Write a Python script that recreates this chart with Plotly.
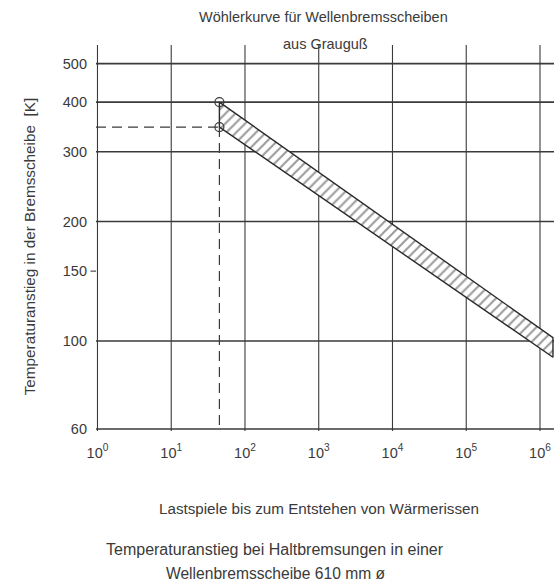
import numpy as np
import plotly.graph_objects as go

# ---- data ----
x_decades = [1, 10, 100, 1000, 10000, 100000, 1000000]
x_ticktext = ["10<sup>0</sup>", "10<sup>1</sup>", "10<sup>2</sup>", "10<sup>3</sup>",
              "10<sup>4</sup>", "10<sup>5</sup>", "10<sup>6</sup>"]
y_ticks = [60, 100, 150, 200, 300, 400, 500]
y_grid = [60, 100, 200, 300, 400, 500]

band_x = [45, 1.5e6]          # load cycles
band_upper = [400, 102]       # K
band_lower = [346, 91]        # K
marker_x = [45, 45]
marker_y = [400, 346]

W, H = 557, 586
FONT = "Liberation Sans, Arial, sans-serif"
INK = "#3a3a3a"
FS = 14.5

x_range = [-0.02, 6.19]
y_range = [np.log10(60) - 0.005, 2.746]
L, R, T, B = 95.7, 3, 45, 155
PW, PH = W - L - R, H - T - B


def px2x(px):
    return (px - L) / PW


def py2y(py):
    return 1 - (py - T) / PH


fig = go.Figure()

# horizontal grid lines
hx, hy = [], []
for v in y_grid:
    hx += [10 ** x_range[0], 10 ** x_range[1], None]
    hy += [v, v, None]
fig.add_trace(go.Scatter(x=hx, y=hy, mode="lines",
                         line=dict(color=INK, width=1.6), hoverinfo="skip", showlegend=False))
# vertical grid lines
vx, vy = [], []
for v in x_decades:
    vx += [v, v, None]
    vy += [10 ** y_range[0], 10 ** y_range[1], None]
fig.add_trace(go.Scatter(x=vx, y=vy, mode="lines",
                         line=dict(color=INK, width=1.1), hoverinfo="skip", showlegend=False))

# hatched scatter band
fig.add_trace(go.Scatter(
    x=band_x + band_x[::-1] + [band_x[0]],
    y=band_upper + band_lower[::-1] + [band_upper[0]],
    mode="lines", fill="toself",
    fillcolor="rgba(0,0,0,0)",
    fillpattern=dict(shape="/", fgcolor="#333333", bgcolor="white", size=7, solidity=0.28),
    line=dict(color="#2a2a2a", width=1.4),
    hoverinfo="skip", showlegend=False))

# dashed guide lines
fig.add_trace(go.Scatter(
    x=[10 ** x_range[0], marker_x[1], None, marker_x[1], marker_x[1]],
    y=[marker_y[1], marker_y[1], None, marker_y[1], 10 ** y_range[0]],
    mode="lines", line=dict(color=INK, width=1.2, dash="10px,6px"),
    hoverinfo="skip", showlegend=False))

# circles
fig.add_trace(go.Scatter(
    x=marker_x, y=marker_y, mode="markers",
    marker=dict(symbol="circle-open", size=9, color=INK, line=dict(width=1.2)),
    hoverinfo="skip", showlegend=False))

# 150 tick mark
fig.add_shape(type="line", xref="paper", yref="y", x0=-0.012, x1=0.0, y0=150, y1=150,
              line=dict(color=INK, width=1.1))

fig.update_xaxes(type="log", range=x_range, tickvals=x_decades, ticktext=x_ticktext,
                 showgrid=False, zeroline=False, showline=False, ticks="",
                 ticklabelstandoff=11,
                 tickfont=dict(family=FONT, size=FS, color=INK))
fig.update_yaxes(type="log", range=y_range, tickvals=y_ticks,
                 ticktext=[str(v) for v in y_ticks],
                 showgrid=False, zeroline=False, showline=False, ticks="",
                 ticklabelstandoff=8,
                 tickfont=dict(family=FONT, size=FS, color=INK))

annos = [
    dict(text="Wöhlerkurve für Wellenbremsscheiben", px=323, py=17, size=14.5),
    dict(text="aus Grauguß", px=325, py=44, size=14.5),
    dict(text="Lastspiele bis zum Entstehen von Wärmerissen", px=319, py=508, size=15.2),
    dict(text="Temperaturanstieg bei Haltbremsungen in einer", px=275, py=549, size=16),
    dict(text="Wellenbremsscheibe 610 mm ø", px=275, py=573, size=15.6),
]
for a in annos:
    fig.add_annotation(text=a["text"], xref="paper", yref="paper",
                       x=px2x(a["px"]), y=py2y(a["py"]), showarrow=False,
                       xanchor="center", yanchor="middle",
                       font=dict(family=FONT, size=a["size"], color=INK))
fig.add_annotation(text="Temperaturanstieg in der Bremsscheibe  [K]", xref="paper", yref="paper",
                   x=px2x(30), y=py2y(246), showarrow=False, textangle=-90,
                   xanchor="center", yanchor="middle",
                   font=dict(family=FONT, size=15.3, color=INK))

fig.update_layout(width=W, height=H, margin=dict(l=L, r=R, t=T, b=B),
                  paper_bgcolor="white", plot_bgcolor="white")

fig.write_html("out.html")
